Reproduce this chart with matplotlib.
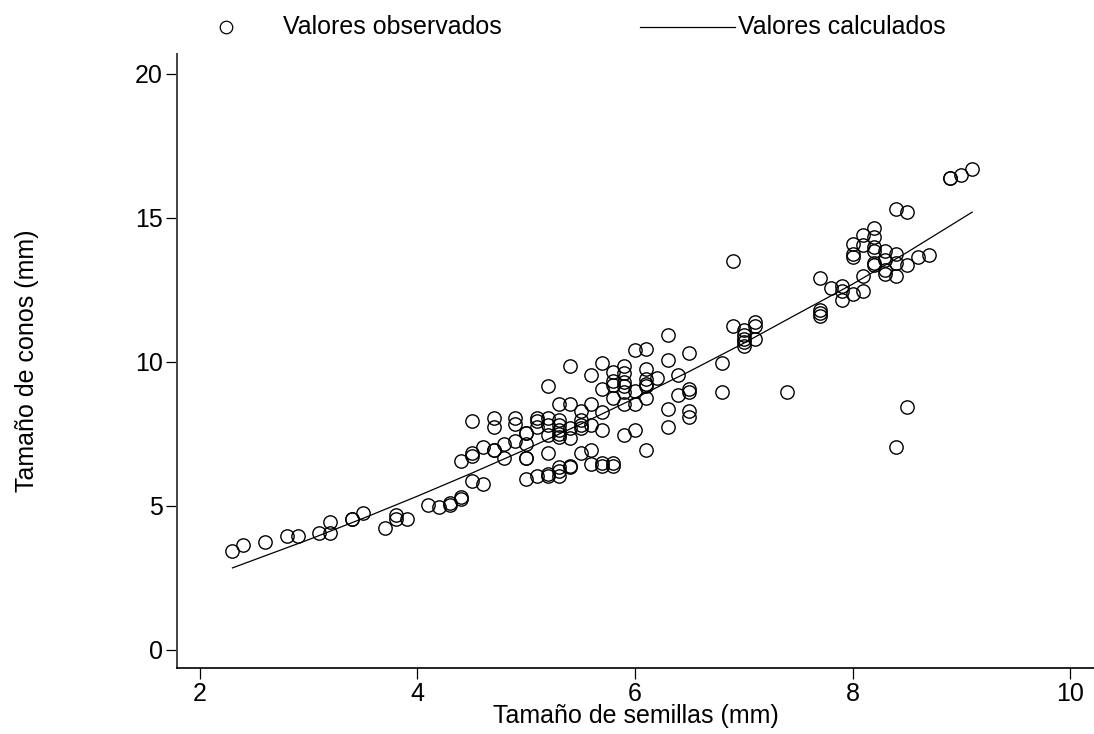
import numpy as np
import matplotlib
matplotlib.use('Agg')
import matplotlib.pyplot as plt
from matplotlib.lines import Line2D

plt.rcParams['font.family'] = ['Liberation Sans', 'DejaVu Sans']

semillas = [2.3, 2.4, 2.6, 2.8, 2.9, 3.1, 3.2, 3.2, 3.4, 3.4, 3.5, 3.7, 3.8, 3.8, 3.9,
            4.1, 4.2, 4.3, 4.3, 4.4, 4.4, 4.4, 4.5, 4.5, 4.5, 4.5, 4.6, 4.6, 4.7, 4.7,
            4.7, 4.7, 4.8, 4.8, 4.9, 4.9, 4.9, 5.0, 5.0, 5.0, 5.0, 5.0, 5.0, 5.1, 5.1,
            5.1, 5.1, 5.2, 5.2, 5.2, 5.2, 5.2, 5.2, 5.2, 5.3, 5.3, 5.3, 5.3, 5.3, 5.3,
            5.3, 5.3, 5.3, 5.4, 5.4, 5.4, 5.4, 5.4, 5.4, 5.5, 5.5, 5.5, 5.5, 5.5, 5.6,
            5.6, 5.6, 5.6, 5.6, 5.7, 5.7, 5.7, 5.7, 5.7, 5.7, 5.8, 5.8, 5.8, 5.8, 5.8,
            5.8, 5.9, 5.9, 5.9, 5.9, 5.9, 5.9, 5.9, 6.0, 6.0, 6.0, 6.0, 6.1, 6.1, 6.1,
            6.1, 6.1, 6.1, 6.1, 6.2, 6.3, 6.3, 6.3, 6.3, 6.4, 6.4, 6.5, 6.5, 6.5, 6.5,
            6.5, 6.8, 6.8, 6.9, 6.9, 7.0, 7.0, 7.0, 7.0, 7.0, 7.1, 7.1, 7.1, 7.4, 7.7,
            7.7, 7.7, 7.7, 7.8, 7.9, 7.9, 7.9, 8.0, 8.0, 8.0, 8.0, 8.1, 8.1, 8.1, 8.1,
            8.2, 8.2, 8.2, 8.2, 8.2, 8.2, 8.3, 8.3, 8.3, 8.3, 8.4, 8.4, 8.4, 8.4, 8.4,
            8.5, 8.5, 8.5, 8.6, 8.7, 8.9, 8.9, 9.0, 9.1]
conos = [3.45, 3.65, 3.75, 3.95, 3.95, 4.05, 4.05, 4.45, 4.55, 4.55, 4.75, 4.25, 4.7, 4.55, 4.55,
         5.05, 4.95, 5.1, 5.05, 5.3, 5.25, 6.55, 5.85, 6.85, 6.75, 7.95, 5.75, 7.05, 6.95, 6.95,
         7.75, 8.05, 6.65, 7.15, 7.25, 7.85, 8.05, 5.95, 6.65, 6.65, 7.15, 7.55, 7.55, 6.05, 7.75,
         7.95, 8.05, 6.1, 6.05, 6.85, 7.45, 7.8, 8.05, 9.15, 6.05, 6.2, 6.35, 7.4, 7.5, 7.65,
         7.8, 8.0, 8.55, 6.35, 6.4, 7.35, 7.7, 8.55, 9.85, 6.85, 7.7, 7.8, 8.0, 8.3, 6.45,
         6.95, 7.8, 8.55, 9.55, 6.4, 6.5, 7.65, 8.25, 9.05, 9.95, 6.4, 6.5, 8.75, 9.2, 9.35,
         9.65, 7.45, 8.55, 8.95, 9.15, 9.3, 9.6, 9.85, 7.65, 8.55, 9.0, 10.4, 6.95, 8.75, 9.15,
         9.25, 9.4, 9.75, 10.45, 9.45, 7.75, 8.35, 10.05, 10.95, 8.85, 9.55, 8.1, 8.3, 8.95, 9.05,
         10.3, 8.95, 9.95, 11.25, 13.5, 10.55, 10.7, 10.8, 10.95, 11.1, 10.8, 11.25, 11.4, 8.95, 11.6,
         11.7, 11.8, 12.9, 12.55, 12.15, 12.45, 12.65, 12.35, 13.65, 13.75, 14.1, 12.45, 13.0, 14.05, 14.4,
         13.35, 13.45, 13.85, 14.0, 14.35, 14.65, 13.05, 13.2, 13.55, 13.85, 7.05, 13.0, 13.45, 13.75, 15.3,
         8.45, 13.35, 15.2, 13.65, 13.7, 16.4, 16.4, 16.5, 16.7]

# calculated values (fitted curve)
calc_x = [2.3, 2.5, 3.0, 3.5, 4.0, 4.5, 5.0, 5.5, 6.0, 6.5, 7.0, 7.5, 8.0, 8.5, 9.1]
calc_y = [2.85, 3.13, 3.83, 4.57, 5.34, 6.14, 6.97, 7.84, 8.74, 9.67, 10.65, 11.68, 12.7, 13.8, 15.2]

x_ticks = [2, 4, 6, 8, 10]
y_ticks = [0, 5, 10, 15, 20]

W, H = 1094, 734
fig = plt.figure(figsize=(W / 100, H / 100), dpi=100)
ax = fig.add_axes([177 / W, 1 - 668 / H, (W - 177) / W, (668 - 54) / H])

ax.plot(semillas, conos, linestyle='none', marker='o', markersize=9.6,
        markerfacecolor='none', markeredgecolor='black', markeredgewidth=1.0)
ax.plot(calc_x, calc_y, color='black', linewidth=0.9)

ax.set_xlim(1.79, 10.22)
ax.set_ylim(-0.625, 20.69)
ax.set_xticks(x_ticks)
ax.set_yticks(y_ticks)
ax.tick_params(direction='out', length=8, width=0.9, labelsize=18, pad=2, colors='black')

for s in ['top', 'right']:
    ax.spines[s].set_visible(False)
ax.spines['left'].set_linewidth(1.4)
ax.spines['left'].set_color('#444444')
ax.spines['bottom'].set_linewidth(1.2)

ax.set_xlabel('Tamaño de semillas (mm)', fontsize=18)
ax.set_ylabel('Tamaño de conos (mm)', fontsize=18)
ax.xaxis.set_label_coords(0.5, -0.058)
ax.yaxis.set_label_coords(-0.15, 0.5)

# legend row on top, placed by hand
ly = 1 - 27 / H
fig.add_artist(Line2D([226 / W], [ly], marker='o', markersize=9.0, markerfacecolor='none',
                      markeredgecolor='black', markeredgewidth=0.9, linestyle='none'))
fig.text(283 / W, ly, 'Valores observados', fontsize=18, va='center', ha='left')
fig.add_artist(Line2D([640 / W, 735 / W], [ly, ly], color='black', linewidth=0.9))
fig.text(738 / W, ly, 'Valores calculados', fontsize=18, va='center', ha='left')

plt.savefig('out.png', dpi=100)
